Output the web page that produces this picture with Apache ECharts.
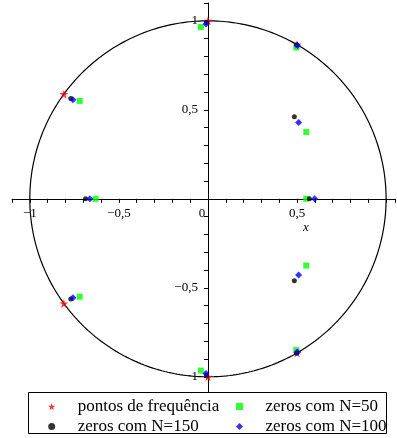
<!DOCTYPE html>
<html>
<head>
<meta charset="utf-8">
<title>zeros</title>
<script src="https://cdn.jsdelivr.net/npm/echarts@6/dist/echarts.min.js"></script>
<style>
  html, body { margin: 0; padding: 0; background: #fff; }
  #main { width: 397px; height: 438px; }
</style>
</head>
<body>
<div id="main"></div>
<script>
// pontos de frequencia (on the unit circle)
var freqPts = [[0, 1], [0.5, 0.866], [-0.809, 0.588], [-0.809, -0.588], [0.5, -0.866], [0, -1]];
// zeros com N=50
var zeros50 = [[-0.72, 0.55], [-0.72, -0.55], [-0.04, 0.965], [-0.04, -0.965], [0.496, 0.85], [0.496, -0.85],
  [0.552, 0.375], [0.552, -0.375], [0.552, 0], [-0.631, 0]];
// zeros com N=100
var zeros100 = [[-0.758, 0.556], [-0.758, -0.556], [-0.011, 0.982], [-0.011, -0.982], [0.502, 0.861], [0.502, -0.861],
  [0.509, 0.428], [0.509, -0.428], [0.599, 0], [-0.663, 0]];
// zeros com N=150
var zeros150 = [[-0.77, 0.563], [-0.77, -0.563], [-0.008, 0.99], [-0.008, -0.99], [0.498, 0.866], [0.498, -0.866],
  [0.485, 0.461], [0.485, -0.461], [0.569, 0], [-0.687, 0]];

var names = ['pontos de frequência', 'zeros com N=50', 'zeros com N=150', 'zeros com N=100'];
var tickLabels = { '-10': '\u22121', '-5': '\u22120,5', '0': '{z|0}', '5': '0,5', '10': '1' };

// unit circle
var circle = [];
for (var i = 0; i <= 360; i++) {
  var a = i * Math.PI / 180;
  circle.push([Math.cos(a), Math.sin(a)]);
}

var serif = 'Liberation Serif';
var star = 'path://M50,0 L61,35 L98,35 L68,57 L79,91 L50,70 L21,91 L32,57 L2,35 L39,35 Z';
var square = 'path://M0,0 L100,0 L100,100 L0,100 Z';
var dot = 'path://M0,50 A50,50 0 1,1 100,50 A50,50 0 1,1 0,50 Z';
var diamond = 'path://M50,0 L100,50 L50,100 L0,50 Z';

var legendText = { fontFamily: serif, fontSize: 17, color: '#000', lineHeight: 19 };

// grid: x from -1.1 to 1.05 over 383px, y from -1.1 to 1.1 over 391.6px
var myChart = echarts.init(document.getElementById('main'));
var option = {
  animation: false,
  backgroundColor: '#fff',
  grid: { left: 12, right: 2, top: 3, bottom: 43.4, containLabel: false, outerBoundsMode: 'none' },
  xAxis: {
    type: 'value', min: -1.1, max: 1.05, interval: 0.1,
    offset: -195.8,
    splitLine: { show: false },
    axisLine: { onZero: false, lineStyle: { color: '#000', width: 1 } },
    axisTick: { length: 4, lineStyle: { color: '#000' } },
    axisLabel: {
      margin: 8, color: '#000', fontFamily: serif, fontSize: 13,
      rich: { z: { fontFamily: serif, fontSize: 13, color: '#000', padding: [0, 12, 0, 0] } },
      formatter: function (v) {
        var k = Math.round(v * 10);
        if (k === 10) return '';
        return tickLabels[k] || '';
      }
    }
  },
  yAxis: {
    type: 'value', min: -1.1, max: 1.1, interval: 0.1,
    offset: -195.95,
    splitLine: { show: false },
    axisLine: { onZero: false, lineStyle: { color: '#000', width: 1 } },
    axisTick: { length: 4, lineStyle: { color: '#000' } },
    axisLabel: {
      margin: 10, color: '#000', fontFamily: serif, fontSize: 13,
      formatter: function (v) {
        var k = Math.round(v * 10);
        if (k === 0) return '';
        return tickLabels[k] || '';
      }
    }
  },
  legend: [{
    orient: 'vertical', left: 48, top: 397, height: 40, padding: 0,
    itemWidth: 42, itemHeight: 7, itemGap: 1,
    data: [{ name: names[0], icon: star }, { name: names[2], icon: dot }],
    textStyle: legendText
  }, {
    orient: 'vertical', left: 236, top: 397, height: 40, padding: 0,
    itemWidth: 42, itemHeight: 7, itemGap: 1,
    data: [{ name: names[1], icon: square }, { name: names[3], icon: diamond }],
    textStyle: legendText
  }],
  graphic: [{
    type: 'rect', z: 3, silent: true,
    shape: { x: 28.5, y: 392.5, width: 358, height: 41 },
    style: { fill: '#fff', stroke: '#000', lineWidth: 1 }
  }, {
    type: 'text', z: 3, left: 303, top: 221, silent: true,
    style: { text: 'x', font: 'italic 13px "Liberation Serif"', fill: '#000' }
  }],
  series: [{
    type: 'line', data: circle, showSymbol: false, silent: true,
    lineStyle: { color: '#000', width: 1.2 }, z: 1
  }, {
    name: names[0], type: 'scatter', data: freqPts, symbol: star, symbolSize: 9,
    itemStyle: { color: '#ff0000' }
  }, {
    name: names[1], type: 'scatter', data: zeros50, symbol: 'rect', symbolSize: 6,
    itemStyle: { color: '#00ff00' }
  }, {
    name: names[2], type: 'scatter', data: zeros150, symbol: 'circle', symbolSize: 5,
    itemStyle: { color: '#000' }
  }, {
    name: names[3], type: 'scatter', data: zeros100, symbol: 'diamond', symbolSize: 7,
    itemStyle: { color: '#0000ff' }
  }]
};
myChart.setOption(option);
</script>
</body>
</html>
